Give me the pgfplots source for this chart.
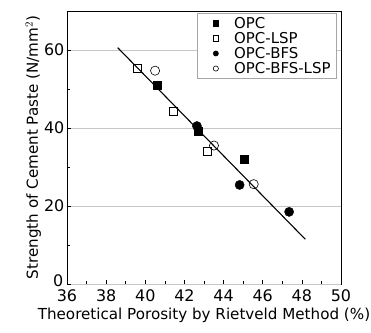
\documentclass[border=0pt]{standalone}
\usepackage{fontspec}
\setmainfont{DejaVu Sans}
\usepackage{pgfplots}
\pgfplotsset{compat=1.18}
\begin{document}
\begin{tikzpicture}[x=1bp,y=1bp]
\useasboundingbox (-67bp,-49bp) rectangle (304bp,284bp);
\begin{axis}[
  at={(0,0)}, anchor=south west,
  scale only axis,
  width=274bp, height=273bp,
  xmin=36, xmax=50, ymin=0, ymax=70,
  xtick={36,38,...,50}, ytick={20,40,60},
  extra y ticks={0},
  extra y tick style={yticklabel style={yshift=2.5bp, xshift=-1bp}},
  minor xtick={37,39,...,49}, minor ytick={10,30,50},
  tick align=inside, xtick pos=bottom, ytick pos=left,
  major tick length=4bp, minor tick length=3bp,
  ymajorgrids, grid style={gray!45, line width=0.7pt},
  axis line style={line width=0.9pt},
  tick style={line width=0.7pt, black},
  /pgf/number format/assume math mode=true,
  tick label style={font=\fontsize{16}{18}\selectfont, inner sep=0.5bp},
  xticklabel style={yshift=-5bp},
  yticklabel style={xshift=-2bp, yshift=0.5bp},
  label style={font=\fontsize{15.2}{17}\selectfont},
  xlabel={Theoretical Porosity by Rietveld Method (\%)},
  ylabel={Strength of Cement Paste (N/mm$^2$)},
  xlabel style={yshift=-2bp},
  ylabel style={yshift=-1bp},
  legend style={at={(0.985,0.992)}, anchor=north east, draw=gray!70, line width=0.7pt,
    font=\fontsize{15}{17}\selectfont, row sep=-1.5bp, inner xsep=4bp, inner ysep=1.5bp},
  legend cell align=left,
  legend image code/.code={\path (-14bp,0bp) (16bp,0bp); \draw[#1, mark size=2.6bp, line width=0.5pt] plot coordinates {(0bp,0bp)};},
]
\addplot[only marks, mark=square*, mark size=4bp, fill=black] coordinates {(40.6,51.0) (42.68,39.06) (45.03,32.0)};
\addlegendentry{OPC}
\addplot[only marks, mark=square, mark size=4bp, mark options={fill=white, line width=0.6pt}] coordinates {(39.58,55.3) (41.42,44.4) (43.19,33.9)};
\addlegendentry{OPC-LSP}
\addplot[only marks, mark=*, mark size=4.6bp, fill=black] coordinates {(42.64,40.5) (44.82,25.4) (47.35,18.5)};
\addlegendentry{OPC-BFS}
\addplot[only marks, mark=o, mark size=4.6bp, mark options={fill=white, line width=0.6pt}] coordinates {(40.5,54.7) (43.51,35.5) (45.54,25.6)};
\addlegendentry{OPC-BFS-LSP}
\addplot[black, line width=1.1pt, forget plot] coordinates {(38.59,60.6) (48.18,11.45)};
\end{axis}
\end{tikzpicture}
\end{document}
